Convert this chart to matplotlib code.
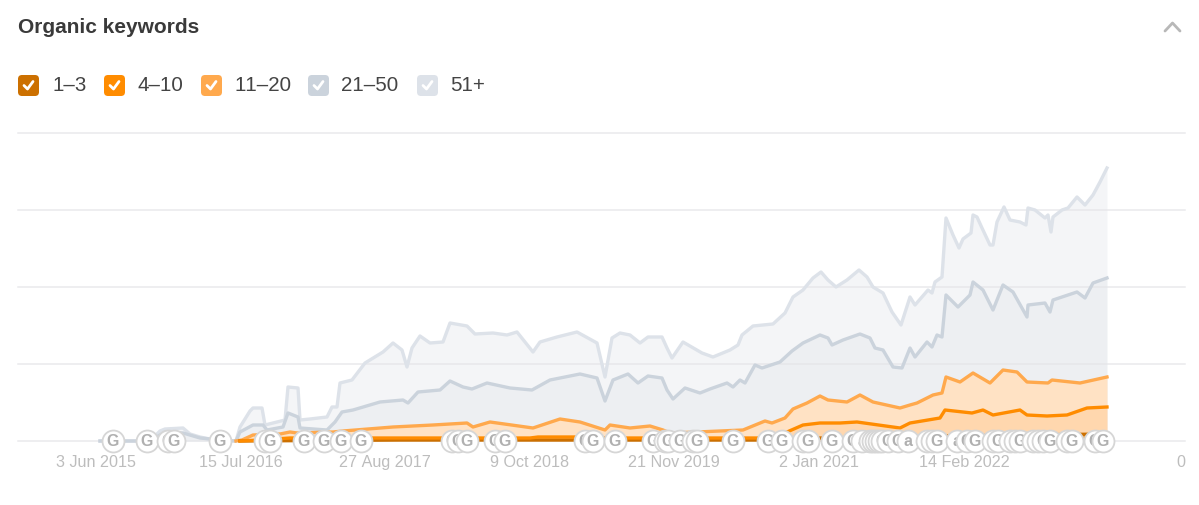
import matplotlib

matplotlib.use("Agg")
import matplotlib.pyplot as plt
from matplotlib.patches import FancyBboxPatch

plt.rcParams["font.family"] = ["Liberation Sans", "DejaVu Sans"]
plt.rcParams["text.kerning_factor"] = 6

# x is a sample index along the time axis, y is keyword count in chart units
x_51 = [4, 54, 64, 69, 87, 94, 104, 119, 140, 144, 154, 157, 166, 169, 189, 192, 202, 204, 214, 231,
        236, 241, 244, 256, 269, 287, 297, 306, 311, 316, 324, 334, 347, 354, 371, 379, 397, 411, 421,
        437, 444, 461, 481, 501, 509, 516, 524, 534, 544, 552, 566, 571, 576, 587, 606, 617, 634, 642,
        646, 657, 677, 689, 697, 707, 717, 725, 732, 740, 751, 763, 771, 777, 787, 796, 805, 814, 819,
        832, 836, 839, 846, 850, 857, 863, 867, 875, 877, 881, 886, 894, 897, 901, 908, 914, 924, 930,
        932, 939, 949, 952, 955, 957, 966, 972, 981, 989, 997, 1004, 1011]
y_51 = [0, 0, 10, 12, 13, 7, 4, 1, 0, 14, 30, 33, 33, 16, 21, 54, 53, 21, 22, 24,
        34, 34, 58, 61, 78, 89, 98, 91, 74, 93, 105, 98, 99, 118, 115, 107, 108, 106, 109,
        89, 99, 104, 109, 98, 64, 103, 108, 106, 98, 104, 104, 93, 83, 99, 88, 84, 91, 96,
        106, 115, 117, 128, 144, 151, 163, 169, 161, 154, 161, 171, 164, 154, 148, 129, 116, 144, 136,
        151, 148, 159, 164, 223, 206, 193, 202, 208, 226, 224, 213, 196, 196, 219, 234, 221, 219, 216,
        233, 231, 223, 226, 209, 224, 231, 233, 244, 236, 246, 259, 273]

x_21 = [4, 54, 69, 87, 104, 124, 140, 144, 157, 167, 171, 187, 192, 202, 204, 231, 239, 246, 257, 284,
        307, 312, 322, 344, 354, 367, 376, 391, 414, 436, 454, 484, 501, 509, 517, 532, 542, 552, 566,
        571, 577, 589, 604, 614, 631, 637, 644, 649, 659, 666, 684, 696, 707, 724, 732, 736, 747, 764,
        774, 779, 787, 797, 806, 814, 819, 831, 836, 841, 846, 850, 862, 874, 877, 887, 897, 907, 917,
        931, 932, 949, 954, 957, 981, 989, 997, 1011]
y_21 = [0, 0, 9, 8, 3, 1, 0, 9, 16, 16, 11, 14, 28, 24, 13, 11, 19, 29, 31, 39,
        41, 38, 49, 51, 60, 54, 52, 58, 53, 51, 61, 67, 63, 40, 61, 67, 58, 65, 63,
        51, 42, 53, 48, 52, 58, 54, 61, 58, 76, 73, 79, 90, 98, 106, 103, 96, 101, 107,
        103, 93, 91, 74, 73, 93, 84, 99, 94, 106, 104, 146, 134, 146, 159, 151, 131, 156, 149,
        124, 136, 138, 129, 141, 149, 143, 158, 163]

x_11 = [140, 146, 157, 184, 194, 201, 237, 247, 297, 337, 371, 377, 394, 437, 464, 484, 509, 514, 534,
        554, 567, 574, 601, 647, 669, 676, 689, 697, 711, 724, 732, 751, 764, 777, 804, 814, 821, 837,
        846, 850, 864, 877, 894, 907, 921, 931, 952, 956, 984, 1011]
y_11 = [0, 1, 6, 7, 9, 8, 9, 10, 14, 16, 18, 14, 19, 13, 22, 19, 11, 16, 13,
        15, 11, 8, 9, 11, 20, 18, 23, 32, 38, 45, 41, 39, 46, 39, 33, 36, 38, 46,
        48, 64, 59, 68, 58, 71, 69, 59, 58, 61, 58, 64]

x_4 = [144, 164, 194, 244, 294, 384, 434, 442, 481, 487, 651, 671, 691, 707, 724, 744, 761, 804, 814,
       844, 849, 876, 887, 897, 924, 931, 951, 971, 991, 1011]
y_4 = [0, 1, 3, 3, 3, 3, 3, 4, 4, 3, 3, 3, 9, 16, 18, 18, 19, 13, 18,
       23, 31, 28, 31, 26, 31, 26, 25, 26, 33, 34]

x_1 = [144, 304, 544, 694, 724, 804, 849, 1011]
y_1 = [0, 1, 1, 1, 3, 2, 5, 7]

x_ticks = [0, 144.5, 289, 433.5, 578, 722.5, 868, 1085]
x_labels = ["3 Jun 2015", "15 Jul 2016", "27 Aug 2017", "9 Oct 2018", "21 Nov 2019", "2 Jan 2021",
            "14 Feb 2022", "0"]
y_grid = [0, 77, 154, 231, 308]

# update annotations along the baseline
note_x = [17, 51, 72, 78, 124, 169, 174, 208, 228, 245, 265, 356, 362, 371, 399, 409, 489, 497, 519,
          557, 569, 572, 584, 597, 601, 637, 672, 686, 707, 712, 736, 757, 766, 774, 777, 780, 783, 786,
          792, 802, 812, 831, 836, 841, 861, 871, 879, 897, 902, 914, 919, 924, 937, 942, 947, 954,
          971, 976, 999, 1007]
note_text = ["G"] * len(note_x)
for i in [note_x.index(766), note_x.index(812), note_x.index(861)]:
    note_text[i] = "a"

legend_labels = ["1–3", "4–10", "11–20", "21–50", "51+"]
legend_colors = ["#cc7000", "#ff8c00", "#ffa94d", "#cbd3dc", "#dde2e9"]
legend_box_x = [18, 104, 201, 308, 417]
legend_text_x = [52, 137, 235, 341, 450]

fig = plt.figure(figsize=(11.99, 5.05), dpi=100)

# chart axes: 18..1185 px wide, baseline at 441 px
ax = fig.add_axes([18 / 1199, (505 - 441) / 505, 1167 / 1199, 321 / 505])
ax.set_xlim(-78, 1089)
ax.set_ylim(0, 321)
for side in ax.spines:
    ax.spines[side].set_visible(False)
ax.set_yticks([])
ax.set_xticks(x_ticks)
ax.set_xticklabels(x_labels, fontsize=11.6, color="#bdbdbd")
ax.tick_params(axis="x", length=0, pad=10)

ax.fill_between(x_51, y_51, 0, color="#dde2e9", alpha=0.32, lw=0, zorder=1)
ax.fill_between(x_21, y_21, 0, color="#cbd3dc", alpha=0.15, lw=0, zorder=1.1)
ax.fill_between(x_11, y_11, 0, color="#ffe2c4", lw=0, zorder=1.2)
ax.fill_between(x_4, y_4, 0, color="#ffa94d", alpha=0.18, lw=0, zorder=1.3)
ax.fill_between(x_1, y_1, 0, color="#cc7000", alpha=0.5, lw=0, zorder=1.4)

for y in y_grid:
    ax.plot([-78, 1089], [y, y], color="#e4e4e8", lw=1.1, alpha=0.8, zorder=1.5, clip_on=False)

ax.plot(x_51, y_51, color="#dde2e9", lw=2.4, zorder=2, solid_joinstyle="round", clip_on=False)
ax.plot(x_21, y_21, color="#cbd3dc", lw=2.4, zorder=2.1, solid_joinstyle="round", clip_on=False)
ax.plot(x_11, y_11, color="#ffa94d", lw=2.4, zorder=2.2, solid_joinstyle="round", clip_on=False)
ax.plot(x_1, y_1, color="#cc7000", lw=2.4, zorder=2.3, solid_joinstyle="round", clip_on=False)
ax.plot(x_4, y_4, color="#ff8c00", lw=2.4, zorder=2.4, solid_joinstyle="round", clip_on=False)

for i, (nx, label) in enumerate(zip(note_x, note_text)):
    ax.scatter([nx], [0], s=250, facecolor="white", edgecolor="#d6d6d6", linewidth=1.3,
               zorder=3 + i * 0.01, clip_on=False)
    ax.text(nx, -0.5, label, ha="center", va="center", fontsize=11.5, fontweight="bold",
            color="#b0b0b0", zorder=3.005 + i * 0.01, clip_on=False)

# header and legend use a pixel overlay
top = fig.add_axes([0, 0, 1, 1], facecolor="none")
top.set_xlim(0, 1199)
top.set_ylim(505, 0)
top.axis("off")

top.text(18.5, 27.5, "Organic keywords", fontsize=15, fontweight="bold", color="#3a3a3a",
         ha="left", va="center")
top.plot([1165, 1172.5, 1180], [31, 23, 31], color="#b8b8b8", lw=2.0, solid_capstyle="round")

for label, color, bx, tx in zip(legend_labels, legend_colors, legend_box_x, legend_text_x):
    top.add_patch(FancyBboxPatch((bx + 4, 79), 13, 13, boxstyle="round,pad=4", facecolor=color,
                                 edgecolor="none"))
    top.plot([bx + 6, bx + 9.5, bx + 15], [85.5, 89, 81.5], color="white", lw=2.0,
             solid_capstyle="round", solid_joinstyle="round")
    top.text(tx, 85.5, label, fontsize=14.8, color="#444444", ha="left", va="center")

fig.savefig("out.png", dpi=100, facecolor="white")
